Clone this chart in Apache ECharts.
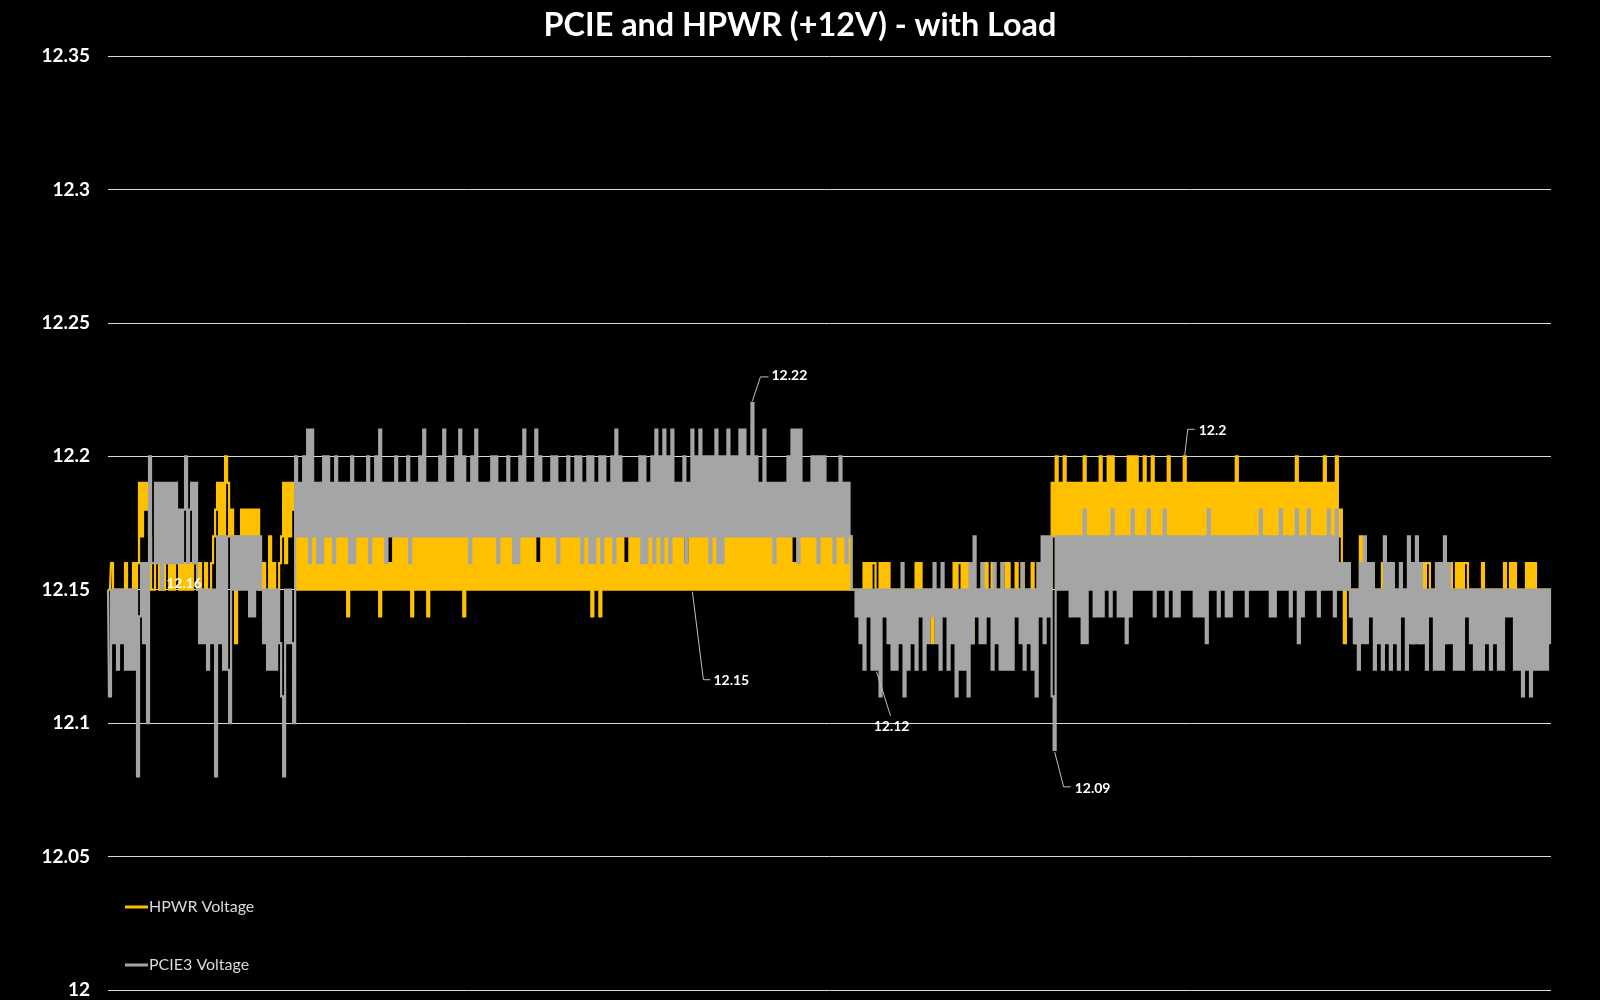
<!DOCTYPE html>
<html>
<head>
<meta charset="utf-8">
<title>PCIE and HPWR (+12V) - with Load</title>
<script src="https://cdn.jsdelivr.net/npm/echarts@6/dist/echarts.min.js"></script>
<style>
  html, body { margin: 0; padding: 0; background: #000; }
  #chart { width: 1600px; height: 1000px; }
</style>
</head>
<body>
<div id="chart"></div>
<script>
// ---------- DATA (volts) ----------
const seriesNames = ['HPWR Voltage', 'PCIE3 Voltage'];
const yTicks = [12, 12.05, 12.1, 12.15, 12.2, 12.25, 12.3, 12.35];

// PCIE3 Voltage, segment by segment
const pcieA = [12.15,12.11,12.15,12.13,12.15,12.12,12.15,12.13,12.15,12.12,12.15,12.12,12.15,12.12,12.15];
const pcieB = [12.08,12.14,12.16,12.13,12.16,12.10,12.20,12.16];
const pcieC = [12.16,12.19,12.16,12.19,12.15,12.19,12.16,12.19,12.16,12.19,12.16,12.19,12.16,12.18,12.16,12.18,12.20,12.16,12.18,12.19,12.16,12.19];
const pcieD = [12.15,12.13,12.15,12.13,12.15,12.12,12.15,12.13,12.15];
const pcieE = [12.08,12.17,12.13,12.17,12.12,12.17,12.12,12.10,12.17];
const pcieF = [12.15,12.17,12.15,12.17,12.15,12.17,12.15,12.17,12.14,12.17,12.14,12.17,12.15,12.17];
const pcieG = [12.15,12.13,12.15,12.12,12.15,12.12,12.15,12.12,12.15,12.13,12.11,12.08,12.15,12.13,12.15,12.13,12.10];
const pcieH = [
12.20,12.17,12.19,12.17,12.20,12.17,12.21,12.16,12.21,12.17,
12.19,12.16,12.19,12.16,12.20,12.17,12.20,12.17,12.19,12.16,
12.20,12.17,12.19,12.17,12.19,12.17,12.19,12.16,12.20,12.16,
12.19,12.17,12.19,12.17,12.19,12.17,12.20,12.16,12.19,12.17,
12.20,12.17,12.21,12.17,12.19,12.16,12.19,12.17,12.19,12.17,
12.20,12.17,12.19,12.17,12.19,12.17,12.20,12.16,12.19,12.17,
12.19,12.17,12.20,12.17,12.21,12.17,12.19,12.17,12.19,12.17,
12.19,12.17,12.20,12.17,12.21,12.17,12.19,12.17,12.19,12.17,
12.20,12.17,12.21,12.17,12.20,12.17,12.19,12.16,12.20,12.17,
12.21,12.17,12.19,12.17,12.19,12.17,12.19,12.17,12.20,12.17,
12.20,12.16,12.19,12.17,12.19,12.17,12.20,12.17,12.19,12.16,
12.19,12.16,12.20,12.17,12.21,12.17,12.19,12.17,12.19,12.17,
12.21,12.17,12.20,12.17,12.19,12.17,12.19,12.17,12.20,12.17,
12.20,12.16,12.19,12.17,12.19,12.17,12.20,12.17,12.19,12.17,
12.20,12.17,12.20,12.16,12.19,12.17,12.20,12.16,12.20,12.16,
12.19,12.17,12.20,12.16,12.20,12.17,12.19,12.17,12.20,12.16,
12.21,12.17,12.20,12.17,12.19,12.17,12.19,12.17,12.19,12.17,
12.19,12.17,12.20,12.16,12.20,12.16,12.19,12.17,12.20,12.16,
12.21,12.17,12.20,12.16,12.21,12.17,12.20,12.16,12.21,12.17,
12.19,12.17,12.19,12.17,12.20,12.16,12.19,12.17,12.21,12.17,
12.20,12.17,12.21,12.17,12.20,12.17,12.20,12.16,12.20,12.17,
12.21,12.16,12.20,12.16,12.20,12.17,12.21,12.17,12.20,12.17,
12.20,12.17,12.21,12.17,12.21,12.17,12.20,12.17,12.22,12.17,
12.20,12.17,12.19,12.17,12.21,12.17,12.19,12.17,12.19,12.16,
12.19,12.17,12.19,12.17,12.19,12.17,12.20,12.17,12.21,12.17,
12.21,12.16,12.21,12.17,12.19,12.17,12.19,12.17,12.20,12.17,
12.20,12.16,12.20,12.17,12.20,12.17,12.19,12.17,12.19,12.16,
12.19,12.17,12.20,12.17,12.19,12.16,12.19,12.17,12.15];
const pcieI = [
12.15,12.14,12.15,12.13,12.15,12.12,12.15,12.14,12.15,12.12,
12.15,12.12,12.15,12.11,12.15,12.14,12.15,12.13,12.15,12.12,
12.15,12.12,12.15,12.13,12.16,12.11,12.15,12.12,12.15,12.13,
12.15,12.12,12.15,12.14,12.15,12.12,12.15,12.13,12.15,12.14,
12.16,12.13,12.15,12.12,12.16,12.14,12.15,12.12,12.15,12.13,
12.15,12.11,12.15,12.12,12.15,12.12,12.15,12.11,12.16,12.13,
12.17,12.14,12.15,12.13,12.16,12.13,12.15,12.14,12.15,12.12,
12.16,12.13,12.15,12.12,12.16,12.12,12.15,12.12,12.15,12.12,
12.15,12.14,12.15,12.13,12.16,12.12,12.15,12.13,12.15,12.12,
12.15,12.11,12.16,12.14,12.17,12.13,12.17,12.14,12.17,12.11];
const pcieJ = [
12.09,12.17,12.15,12.17,12.15,12.17,12.15,12.17,12.14,12.17,
12.14,12.17,12.14,12.17,12.13,12.18,12.13,12.17,12.15,12.17,
12.14,12.17,12.14,12.17,12.14,12.17,12.15,12.17,12.14,12.18,
12.15,12.17,12.14,12.17,12.14,12.17,12.13,12.17,12.14,12.18,
12.15,12.17,12.15,12.17,12.15,12.17,12.15,12.18,12.15,12.17,
12.14,12.17,12.15,12.17,12.15,12.18,12.14,12.17,12.15,12.17,
12.14,12.17,12.14,12.17,12.15,12.17,12.15,12.17,12.15,12.17,
12.14,12.17,12.14,12.17,12.14,12.17,12.13,12.18,12.15,12.17,
12.15,12.17,12.14,12.17,12.15,12.17,12.14,12.17,12.14,12.17,
12.15,12.17,12.15,12.17,12.15,12.17,12.14,12.17,12.15,12.17,
12.15,12.17,12.15,12.18,12.15,12.17,12.15,12.17,12.14,12.17,
12.14,12.17,12.15,12.18,12.15,12.17,12.15,12.17,12.14,12.17,
12.15,12.18,12.13,12.17,12.14,12.17,12.15,12.18,12.15,12.17,
12.15,12.17,12.14,12.17,12.15,12.17,12.15,12.18,12.15,12.17,
12.14,12.18,12.15,12.16,12.15];
const pcieK = [
12.16,12.15,12.16,12.14,12.15,12.13,12.15,12.12,12.16,12.13,
12.17,12.13,12.16,12.14,12.16,12.12,12.15,12.13,12.15,12.12,
12.17,12.13,12.16,12.12,12.16,12.13,12.15,12.12,12.16,12.14,
12.15,12.12,12.17,12.13,12.16,12.13,12.17,12.13,12.16,12.13,
12.15,12.12,12.15,12.14,12.15,12.12,12.16,12.12,12.16,12.12,
12.17,12.13,12.16,12.13,12.15,12.12,12.15,12.12,12.15,12.12,
12.15,12.14,12.15,12.13,12.15,12.12,12.15,12.12,12.15,12.12,
12.15,12.13,12.15,12.12,12.15,12.13,12.15,12.12,12.15,12.12,
12.15,12.14,12.15,12.14,12.15,12.12,12.15,12.12,12.15,12.11,
12.15,12.12,12.15,12.11,12.15,12.12,12.15,12.12,12.15,12.12,
12.15,12.12,12.15,12.13];

// HPWR Voltage, segment by segment
const hpwrA = [12.15,12.15,12.16,12.15,12.15,12.15,12.15,12.15,12.15,12.16,12.15,12.15,12.15,12.16,12.15];
const hpwrB = [12.16,12.19,12.17,12.19,12.18,12.19,12.17,12.15];
const hpwrC = [12.15,12.16,12.16,12.15,12.16,12.15,12.16,12.16,12.15,12.16,12.15,12.16,12.16,12.15,12.16,12.15,12.16,12.15,12.16,12.15,12.16,12.16];
const hpwrD = [12.15,12.16,12.15,12.15,12.16,12.15,12.15,12.16,12.17];
const hpwrE = [12.18,12.19,12.17,12.19,12.17,12.20,12.19,12.17,12.18];
const hpwrF = [12.17,12.13,12.17,12.16,12.18,12.16,12.18,12.16,12.18,12.16,12.18,12.16,12.18,12.15];
const hpwrG = [12.15,12.16,12.15,12.15,12.17,12.15,12.16,12.15,12.15,12.16,12.17,12.19,12.16,12.19,12.17,12.19,12.18];
const hpwrH = [
12.15,12.17,12.15,12.17,12.15,12.17,12.15,12.17,12.15,12.17,
12.15,12.18,12.15,12.18,12.15,12.17,12.15,12.17,12.15,12.17,
12.15,12.17,12.15,12.17,12.15,12.17,12.14,12.17,12.15,12.17,
12.15,12.17,12.15,12.17,12.15,12.17,12.15,12.17,12.15,12.17,
12.15,12.17,12.14,12.17,12.15,12.17,12.15,12.16,12.15,12.17,
12.15,12.17,12.15,12.17,12.15,12.17,12.15,12.17,12.14,12.17,
12.15,12.17,12.15,12.17,12.15,12.17,12.14,12.17,12.15,12.17,
12.15,12.18,12.15,12.17,12.15,12.17,12.15,12.17,12.15,12.17,
12.15,12.17,12.15,12.17,12.14,12.17,12.15,12.17,12.15,12.17,
12.15,12.17,12.15,12.17,12.15,12.17,12.15,12.17,12.15,12.17,
12.15,12.17,12.15,12.17,12.15,12.17,12.15,12.17,12.15,12.17,
12.15,12.17,12.15,12.17,12.15,12.17,12.15,12.17,12.15,12.17,
12.15,12.16,12.15,12.17,12.15,12.17,12.15,12.17,12.15,12.17,
12.15,12.17,12.15,12.17,12.15,12.17,12.15,12.17,12.15,12.17,
12.15,12.17,12.15,12.17,12.15,12.17,12.15,12.17,12.14,12.17,
12.15,12.17,12.14,12.17,12.15,12.17,12.15,12.17,12.15,12.17,
12.15,12.17,12.15,12.17,12.15,12.16,12.15,12.17,12.15,12.17,
12.15,12.17,12.15,12.17,12.15,12.17,12.15,12.17,12.15,12.17,
12.15,12.17,12.15,12.17,12.15,12.17,12.15,12.17,12.15,12.17,
12.15,12.17,12.15,12.17,12.15,12.16,12.15,12.17,12.15,12.17,
12.15,12.17,12.15,12.17,12.15,12.17,12.15,12.17,12.15,12.17,
12.15,12.17,12.15,12.17,12.15,12.17,12.15,12.17,12.15,12.18,
12.15,12.17,12.15,12.17,12.15,12.17,12.15,12.17,12.15,12.18,
12.15,12.17,12.15,12.17,12.15,12.18,12.15,12.17,12.15,12.17,
12.15,12.17,12.15,12.17,12.15,12.17,12.15,12.17,12.15,12.16,
12.15,12.17,12.15,12.17,12.15,12.17,12.15,12.17,12.15,12.17,
12.15,12.17,12.15,12.17,12.15,12.17,12.15,12.17,12.15,12.17,
12.15,12.17,12.15,12.17,12.15,12.17,12.15,12.17,12.15];
const hpwrI = [
12.15,12.15,12.15,12.15,12.15,12.16,12.15,12.16,12.15,12.16,
12.16,12.15,12.15,12.16,12.15,12.16,12.15,12.16,12.15,12.15,
12.15,12.15,12.15,12.15,12.15,12.15,12.15,12.15,12.15,12.15,
12.15,12.16,12.15,12.16,12.15,12.15,12.15,12.15,12.15,12.13,
12.15,12.15,12.15,12.15,12.15,12.15,12.15,12.15,12.15,12.15,
12.16,12.15,12.16,12.16,12.15,12.16,12.15,12.16,12.15,12.13,
12.15,12.15,12.15,12.15,12.16,12.15,12.16,12.15,12.15,12.16,
12.15,12.15,12.15,12.15,12.16,12.16,12.15,12.16,12.15,12.15,
12.15,12.16,12.15,12.15,12.16,12.15,12.15,12.15,12.15,12.16,
12.15,12.15,12.16,12.15,12.15,12.14,12.15,12.16,12.15,12.19];
const hpwrJ = [
12.17,12.20,12.17,12.19,12.17,12.20,12.17,12.19,12.17,12.19,
12.17,12.19,12.17,12.19,12.17,12.20,12.17,12.19,12.17,12.19,
12.17,12.19,12.17,12.20,12.17,12.19,12.17,12.20,12.17,12.20,
12.17,12.19,12.17,12.19,12.17,12.19,12.17,12.20,12.17,12.20,
12.17,12.20,12.17,12.19,12.17,12.20,12.17,12.19,12.17,12.20,
12.17,12.19,12.17,12.19,12.17,12.19,12.17,12.20,12.17,12.19,
12.17,12.19,12.17,12.19,12.17,12.20,12.17,12.19,12.17,12.19,
12.17,12.19,12.17,12.19,12.17,12.19,12.17,12.19,12.17,12.19,
12.17,12.19,12.17,12.19,12.17,12.19,12.17,12.19,12.17,12.19,
12.17,12.20,12.17,12.19,12.17,12.19,12.17,12.19,12.17,12.19,
12.17,12.19,12.17,12.19,12.17,12.19,12.17,12.19,12.17,12.19,
12.17,12.19,12.17,12.19,12.17,12.19,12.17,12.19,12.17,12.19,
12.17,12.20,12.17,12.19,12.17,12.19,12.17,12.19,12.17,12.19,
12.17,12.19,12.17,12.19,12.17,12.20,12.17,12.19,12.17,12.19,
12.17,12.20,12.17,12.18,12.15];
const hpwrK = [
12.13,12.15,12.16,12.15,12.14,12.15,12.13,12.15,12.17,12.15,
12.15,12.15,12.15,12.15,12.15,12.15,12.15,12.15,12.15,12.16,
12.15,12.15,12.15,12.15,12.15,12.15,12.15,12.15,12.15,12.15,
12.15,12.15,12.15,12.15,12.13,12.15,12.15,12.15,12.13,12.16,
12.15,12.16,12.16,12.15,12.15,12.15,12.15,12.15,12.16,12.16,
12.13,12.15,12.14,12.16,12.15,12.15,12.16,12.15,12.16,12.15,
12.16,12.16,12.15,12.15,12.15,12.15,12.15,12.15,12.15,12.16,
12.15,12.15,12.15,12.15,12.15,12.15,12.15,12.15,12.15,12.15,
12.16,12.15,12.15,12.16,12.15,12.16,12.15,12.15,12.15,12.15,
12.15,12.16,12.15,12.16,12.15,12.16,12.15,12.15,12.15,12.15,
12.15,12.15,12.15,12.15];

// Points that carry a data label: [series, sample index]
const labeledPoints = [
  ['HPWR Voltage', 37],
  ['PCIE3 Voltage', 322],
  ['HPWR Voltage', 292],
  ['PCIE3 Voltage', 384],
  ['PCIE3 Voltage', 473],
  ['HPWR Voltage', 538]
];

// ---------- BUILD ----------
const pcie = [].concat(pcieA, pcieB, pcieC, pcieD, pcieE, pcieF, pcieG, pcieH, pcieI, pcieJ, pcieK);
const hpwr = [].concat(hpwrA, hpwrB, hpwrC, hpwrD, hpwrE, hpwrF, hpwrG, hpwrH, hpwrI, hpwrJ, hpwrK);
const nSamples = Math.max(pcie.length, hpwr.length);
const categories = Array.from({ length: nSamples }, (_, i) => i);
const bySeries = { 'HPWR Voltage': hpwr, 'PCIE3 Voltage': pcie };
const labelData = labeledPoints.map(([s, i]) => [i, bySeries[s][i]]);

const fmt = v => String(parseFloat(Number(v).toFixed(2)));

// label layout (style only): leader-line points and text anchor, relative to the data point
const labelStyles = [
  { text: [2, 20], align: 'center' },
  { line: [[0, -2], [8, -26], [16, -26]], text: [19, -27], align: 'left' },
  { line: [[0, 2], [11, 90], [18, 90]], text: [21, 91], align: 'left' },
  { line: [[0, 2], [14, 46]], text: [15, 57], align: 'center' },
  { line: [[0, 2], [9, 37], [16, 37]], text: [20, 39], align: 'left' },
  { line: [[0, -1], [3, -27], [10, -27]], text: [14, -26], align: 'left' }
];

const FONT = 'Lato, "Open Sans", "DejaVu Sans", sans-serif';
const chart = echarts.init(document.getElementById('chart'), null, { renderer: 'canvas' });

chart.setOption({
  backgroundColor: '#000000',
  animation: false,
  title: {
    text: 'PCIE and HPWR (+12V) - with Load' + (pcie.length !== hpwr.length ? ' (!)' : ''),
    left: 'center',
    top: 5,
    textStyle: { color: '#ffffff', fontSize: 32.4, fontWeight: 'bold', fontFamily: FONT }
  },
  legend: {
    data: seriesNames,
    orient: 'vertical',
    left: 120,
    top: 894,
    icon: 'rect',
    itemWidth: 23,
    itemHeight: 3,
    itemGap: 42,
    textStyle: { color: '#d9d9d9', fontSize: 16, fontFamily: FONT, padding: [0, 0, 0, -4] }
  },
  grid: { left: 108, right: 49, top: 56, bottom: 10, containLabel: false },
  xAxis: {
    type: 'category',
    data: categories,
    boundaryGap: false,
    show: false
  },
  yAxis: {
    type: 'value',
    min: yTicks[0],
    max: yTicks[yTicks.length - 1],
    interval: 0.05,
    axisLine: { show: false },
    axisTick: { show: false },
    axisLabel: {
      color: '#ffffff', fontSize: 19, fontWeight: 'bold', fontFamily: FONT, margin: 18,
      formatter: fmt
    },
    splitLine: { lineStyle: { color: '#d9d9d9', width: 1 } }
  },
  series: [
    {
      name: 'HPWR Voltage',
      type: 'line',
      data: hpwr,
      step: 'middle',
      showSymbol: false,
      symbol: 'none',
      silent: true,
      lineStyle: { color: '#FFC000', width: 2.2, join: 'miter' },
      itemStyle: { color: '#FFC000' },
      z: 2
    },
    {
      name: 'PCIE3 Voltage',
      type: 'line',
      data: pcie,
      step: 'middle',
      showSymbol: false,
      symbol: 'none',
      silent: true,
      lineStyle: { color: '#A5A5A5', width: 2.2, join: 'miter' },
      itemStyle: { color: '#A5A5A5' },
      z: 3
    },
    {
      name: 'labels',
      type: 'custom',
      data: labelData,
      silent: true,
      z: 10,
      encode: { x: 0, y: 1 },
      renderItem: function (params, api) {
        const p = api.coord([api.value(0), api.value(1)]);
        const s = labelStyles[params.dataIndex];
        const children = [];
        if (s.line) {
          children.push({
            type: 'polyline',
            shape: { points: s.line.map(d => [p[0] + d[0], p[1] + d[1]]) },
            style: { stroke: '#bfbfbf', lineWidth: 1, fill: null }
          });
        }
        children.push({
          type: 'text',
          x: p[0] + s.text[0],
          y: p[1] + s.text[1],
          style: {
            text: fmt(api.value(1)),
            fill: '#ffffff',
            fontSize: 14,
            fontWeight: 'bold',
            fontFamily: FONT,
            align: s.align,
            verticalAlign: 'middle'
          }
        });
        return { type: 'group', children: children };
      }
    }
  ]
});
</script>
</body>
</html>
